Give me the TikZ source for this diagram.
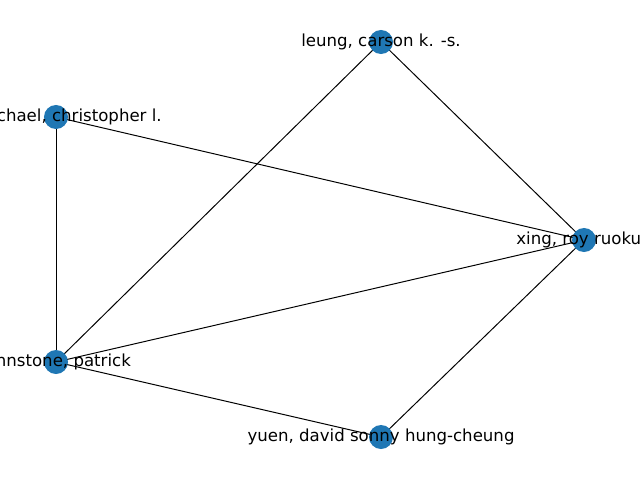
\documentclass[tikz,border=0pt]{standalone}
\usepackage{fontspec}
\setmainfont{DejaVu Sans}
\definecolor{nodeblue}{HTML}{1F77B4}
\begin{document}
\begin{tikzpicture}[x=0.025cm, y=-0.025cm,
  dot/.style={circle, fill=nodeblue, minimum size=0.6cm, inner sep=0pt},
  lbl/.style={font=\fontsize{11.8}{14}\selectfont, inner sep=0pt},
  edge/.style={line width=0.7pt, black}]
  \useasboundingbox (0,0) rectangle (640,480);
  \clip (0,0) rectangle (640,480);
  % posiciones
  \coordinate (leung) at (381,42);
  \coordinate (carmichael) at (56,117);
  \coordinate (xing) at (584,240);
  \coordinate (johnstone) at (56,362);
  \coordinate (yuen) at (381,437);
  % aristas
  \draw[edge] (carmichael) -- (johnstone);
  \draw[edge] (carmichael) -- (xing);
  \draw[edge] (leung) -- (johnstone);
  \draw[edge] (leung) -- (xing);
  \draw[edge] (johnstone) -- (xing);
  \draw[edge] (johnstone) -- (yuen);
  \draw[edge] (yuen) -- (xing);
  % nodos
  \foreach \n in {leung, carmichael, xing, johnstone, yuen}
    \node[dot] (\n-dot) at (\n) {};
  % etiquetas
  \node[lbl] (leung-lbl) at (leung) {leung, carson k. -s.};
  \node[lbl] (carmichael-lbl) at (carmichael) {carmichael, christopher l.};
  \node[lbl] (xing-lbl) at (xing) {xing, roy ruokun};
  \node[lbl] (johnstone-lbl) at (johnstone) {johnstone, patrick};
  \node[lbl] (yuen-lbl) at (yuen) {yuen, david sonny hung-cheung};
\end{tikzpicture}
\end{document}
